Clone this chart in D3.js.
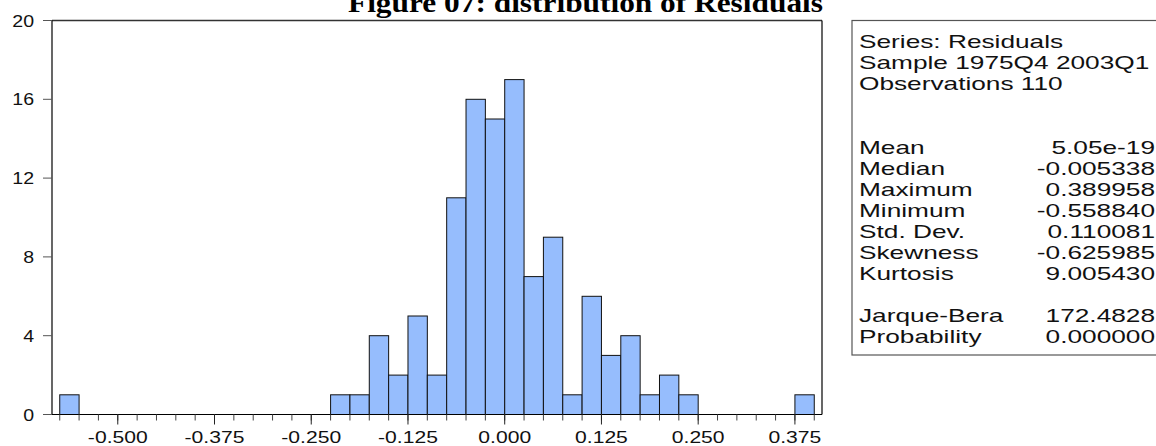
<!DOCTYPE html>
<html>
<head>
<meta charset="utf-8">
<script src="https://cdn.jsdelivr.net/npm/d3@7"></script>
<style>
  body { margin: 0; background: #fff; }
  svg { display: block; }
</style>
</head>
<body>
<div id="chart"></div>
<script>
// histogram bins (lower edge, bin width 0.025) and counts
let binLow = [-0.575, -0.225, -0.2, -0.175, -0.15, -0.125, -0.1, -0.075, -0.05, -0.025,
  0, 0.025, 0.05, 0.075, 0.1, 0.125, 0.15, 0.175, 0.2, 0.225, 0.375];
let counts = [1, 1, 1, 4, 2, 5, 2, 11, 16, 15, 17, 7, 9, 1, 6, 3, 4, 1, 2, 1, 1];
let binWidth = 0.025;

let xTicks = [-0.5, -0.375, -0.25, -0.125, 0, 0.125, 0.25, 0.375];
let xMinor = [-0.575, -0.55, -0.525, -0.5, -0.475, -0.45, -0.425, -0.4, -0.375, -0.35, -0.325,
  -0.3, -0.275, -0.25, -0.225, -0.2, -0.175, -0.15, -0.125, -0.1, -0.075, -0.05, -0.025, 0,
  0.025, 0.05, 0.075, 0.1, 0.125, 0.15, 0.175, 0.2, 0.225, 0.25, 0.275, 0.3, 0.325, 0.35, 0.375, 0.4];
let yTicks = [0, 4, 8, 12, 16, 20];

let headerLines = ["Series: Residuals", "Sample 1975Q4 2003Q1", "Observations 110"];
let statLabels = ["Mean", "Median", "Maximum", "Minimum", "Std. Dev.", "Skewness", "Kurtosis", "", "Jarque-Bera", "Probability"];
let statValues = ["5.05e-19", "-0.005338", "0.389958", "-0.558840", "0.110081", "-0.625985", "9.005430", "", "172.4828", "0.000000"];

let titleText = "Figure 07: distribution of Residuals";

let W = 1156, H = 446;
let plot = {left: 52, right: 822, top: 20.5, bottom: 414.5};

let svg = d3.select("#chart").append("svg")
  .attr("width", W)
  .attr("height", H);

let x = d3.scaleLinear().domain([-0.585, 0.41]).range([plot.left, plot.right]);
let y = d3.scaleLinear().domain([0, 20]).range([plot.bottom, plot.top]);

// title (its top is cut off in the original as well)
svg.append("text")
  .attr("x", 585.5)
  .attr("y", 12)
  .attr("text-anchor", "middle")
  .attr("font-family", "Liberation Serif, Times New Roman, serif")
  .attr("font-weight", "bold")
  .attr("font-size", 28)
  .attr("textLength", 475)
  .attr("lengthAdjust", "spacingAndGlyphs")
  .text(titleText);

// bars
svg.selectAll("rect.bar")
  .data(binLow)
  .enter()
  .append("rect")
    .attr("class", "bar")
    .attr("x", function(d) { return x(d); })
    .attr("y", function(d, i) { return y(counts[i]); })
    .attr("width", function(d) { return x(d + binWidth) - x(d); })
    .attr("height", function(d, i) { return y(0) - y(counts[i]); })
    .attr("fill", "#96bdfd")
    .attr("stroke", "#111")
    .attr("stroke-width", 1);

// plot frame
svg.append("line")
  .attr("x1", plot.left).attr("x2", plot.right)
  .attr("y1", plot.top).attr("y2", plot.top)
  .attr("stroke", "#333").attr("stroke-width", 1.6);
svg.append("line")
  .attr("x1", plot.right).attr("x2", plot.right)
  .attr("y1", plot.top).attr("y2", plot.bottom)
  .attr("stroke", "#000").attr("stroke-width", 1.2);
svg.append("line")
  .attr("x1", plot.left).attr("x2", plot.left)
  .attr("y1", plot.top).attr("y2", plot.bottom)
  .attr("stroke", "#000").attr("stroke-width", 1.2);
svg.append("line")
  .attr("x1", plot.left).attr("x2", plot.right)
  .attr("y1", plot.bottom).attr("y2", plot.bottom)
  .attr("stroke", "#000").attr("stroke-width", 1.2);

// x ticks
svg.selectAll("line.xminor")
  .data(xMinor)
  .enter()
  .append("line")
    .attr("x1", function(d) { return x(d); })
    .attr("x2", function(d) { return x(d); })
    .attr("y1", plot.bottom)
    .attr("y2", plot.bottom + 6)
    .attr("stroke", "#444");
svg.selectAll("line.xmajor")
  .data(xTicks)
  .enter()
  .append("line")
    .attr("x1", function(d) { return x(d); })
    .attr("x2", function(d) { return x(d); })
    .attr("y1", plot.bottom)
    .attr("y2", plot.bottom + 10)
    .attr("stroke", "#222");
svg.selectAll("text.xlab")
  .data(xTicks)
  .enter()
  .append("text")
    .attr("transform", function(d) { return "translate(" + x(d) + ",443) scale(1.28,1)"; })
    .attr("text-anchor", "middle")
    .attr("font-family", "Liberation Sans, Arial, sans-serif")
    .attr("font-size", 16.5)
    .attr("fill", "#111")
    .text(function(d) { return d3.format(".3f")(d).replace("−", "-"); });

// y ticks
svg.selectAll("line.ytick")
  .data(yTicks)
  .enter()
  .append("line")
    .attr("x1", plot.left - 9)
    .attr("x2", plot.left)
    .attr("y1", function(d) { return y(d); })
    .attr("y2", function(d) { return y(d); })
    .attr("stroke", "#555");
svg.selectAll("text.ylab")
  .data(yTicks)
  .enter()
  .append("text")
    .attr("transform", function(d) { return "translate(34," + (y(d) + 6) + ") scale(1.15,1)"; })
    .attr("text-anchor", "end")
    .attr("font-family", "Liberation Sans, Arial, sans-serif")
    .attr("font-size", 17)
    .attr("fill", "#111")
    .text(function(d) { return d; });

// statistics box
svg.append("rect")
  .attr("x", 852).attr("y", 20.5)
  .attr("width", 310).attr("height", 334.5)
  .attr("fill", "none")
  .attr("stroke", "#555")
  .attr("stroke-width", 1.2);

let lineH = 21, headBase = 48, statBase = 154;
svg.selectAll("text.head")
  .data(headerLines)
  .enter()
  .append("text")
    .attr("transform", function(d, i) { return "translate(859," + (headBase + i * lineH) + ") scale(1.5,1)"; })
    .attr("font-family", "Liberation Sans, Arial, sans-serif")
    .attr("font-size", 17.5)
    .attr("fill", "#111")
    .text(function(d) { return d; });
svg.selectAll("text.slab")
  .data(statLabels)
  .enter()
  .append("text")
    .attr("transform", function(d, i) { return "translate(859," + (statBase + i * lineH) + ") scale(1.5,1)"; })
    .attr("font-family", "Liberation Sans, Arial, sans-serif")
    .attr("font-size", 17.5)
    .attr("fill", "#111")
    .text(function(d) { return d; });
svg.selectAll("text.sval")
  .data(statValues)
  .enter()
  .append("text")
    .attr("transform", function(d, i) { return "translate(1155," + (statBase + i * lineH) + ") scale(1.5,1)"; })
    .attr("text-anchor", "end")
    .attr("font-family", "Liberation Sans, Arial, sans-serif")
    .attr("font-size", 17.5)
    .attr("fill", "#111")
    .text(function(d) { return d; });
</script>
</body>
</html>
